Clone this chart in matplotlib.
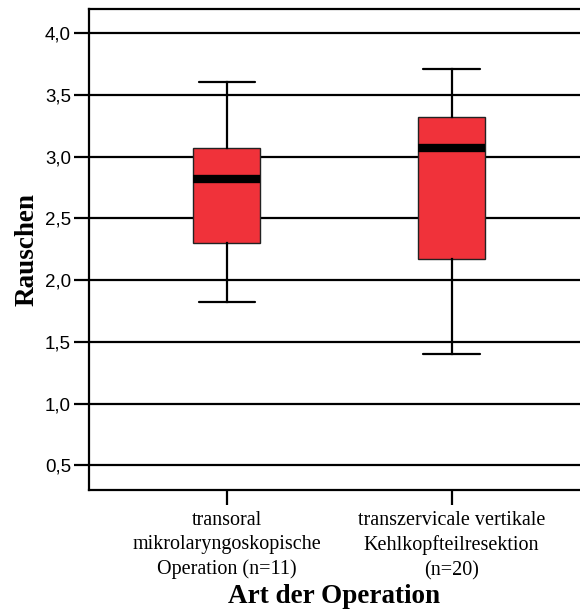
import matplotlib
matplotlib.use("Agg")
from matplotlib import pyplot as plt
from matplotlib.ticker import FixedLocator, FuncFormatter


# Data
groups = ["transoral\nmikrolaryngoskopische\nOperation (n=11)",
          "transzervicale vertikale\nKehlkopfteilresektion\n(n=20)"]
whisker_low = [1.82, 1.40]
quart_1 = [2.30, 2.17]
medians = [2.82, 3.07]
quart_3 = [3.07, 3.32]
whisker_high = [3.60, 3.71]
y_ticks = [0.5, 1.0, 1.5, 2.0, 2.5, 3.0, 3.5, 4.0]

box_color = "#f0323a"

stats = []
for i in range(len(groups)):
    stats.append({
        "whislo": whisker_low[i], "q1": quart_1[i], "med": medians[i],
        "q3": quart_3[i], "whishi": whisker_high[i], "fliers": []
    })

fig = plt.figure(figsize=(5.8, 6.13), dpi=100)
ax = fig.add_axes([89 / 580, 1 - 490 / 613, 1 - 89 / 580, (490 - 9) / 613])

positions = list(range(1, len(groups) + 1))
ax.bxp(stats, positions=positions, widths=0.30, capwidths=0.25, patch_artist=True,
       boxprops=dict(facecolor=box_color, edgecolor="#222222", linewidth=1.0),
       medianprops=dict(color="black", linewidth=6, solid_capstyle="butt"),
       whiskerprops=dict(color="black", linewidth=1.6),
       capprops=dict(color="black", linewidth=1.6, solid_capstyle="round"),
       showfliers=False, zorder=3)

ax.set_xlim(0.388, 2.571)
ax.set_ylim(0.3, 4.195)

ax.yaxis.set_major_locator(FixedLocator(y_ticks))
ax.yaxis.set_major_formatter(FuncFormatter(lambda v, p: f"{v:.1f}".replace(".", ",")))
ax.yaxis.grid(True, color="black", linewidth=1.6)
ax.set_axisbelow(True)

ax.set_xticks(positions)
ax.set_xticklabels(groups, family="Liberation Serif", fontsize=14.5, linespacing=1.38)

for lab in ax.get_yticklabels():
    lab.set_family("Liberation Sans")
    lab.set_fontsize(13.5)

ax.tick_params(axis="both", direction="out", length=11, width=1.6, color="black")
ax.tick_params(axis="y", pad=2)
ax.tick_params(axis="x", pad=4)

for side in ["left", "bottom", "top"]:
    ax.spines[side].set_linewidth(1.6)
ax.spines["right"].set_visible(False)

ax.set_ylabel("Rauschen", family="Liberation Serif", fontweight="bold", fontsize=19.5, labelpad=4)
ax.set_xlabel("Art der Operation", family="Liberation Serif", fontweight="bold", fontsize=19.5, labelpad=3)

fig.savefig("out.png", dpi=100)
